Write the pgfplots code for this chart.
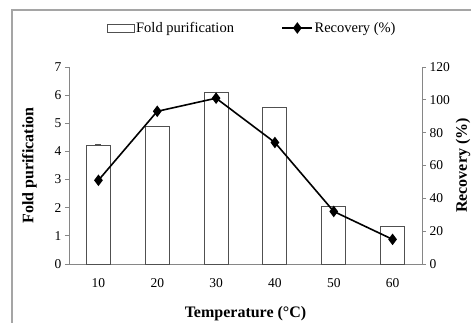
\documentclass[border=0pt]{standalone}
\usepackage{fontspec}
\setmainfont{Liberation Serif}
\usepackage{pgfplots}
\pgfplotsset{compat=1.18}
\definecolor{axgray}{HTML}{868686}
\definecolor{bargray}{HTML}{505050}
\pgfplotsset{
  barleg/.style={legend image code/.code={\draw[fill=white, draw=bargray, line width=1pt] (0pt,-4pt) rectangle (27pt,4pt);}},
  lineleg/.style={legend image code/.code={\draw[##1, mark=none] (0pt,0pt) -- (30pt,0pt); \draw[##1, only marks] plot coordinates {(15pt,0pt)};}},
}
\begin{document}
\begin{tikzpicture}
\useasboundingbox (0pt,0pt) rectangle (471pt,322pt);
\draw[color={rgb,255:red,165;green,165;blue,165}, line width=1.6pt] (12pt,-10pt) -- (12pt,312pt) -- (490pt,312pt);
\begin{axis}[
  at={(69pt,58pt)}, anchor=south west,
  scale only axis, width=353pt, height=197pt,
  xmin=-0.5, xmax=5.5, ymin=0, ymax=7,
  axis x line*=bottom, axis y line*=left,
  axis line style={axgray, line width=0.8pt},
  xtick={0,1,2,3,4,5}, xticklabels={10,20,30,40,50,60},
  extra x ticks={-0.5,0.5,1.5,2.5,3.5,4.5,5.5}, extra x tick labels={},
  extra x tick style={major tick length=4pt, tick style={axgray, line width=0.8pt}},
  x tick style={draw=none},
  ytick={0,1,...,7},
  y tick style={axgray, line width=0.8pt},
  tick align=outside, major tick length=4pt,
  tick label style={font=\fontsize{13.5}{15}\selectfont, black},
  xticklabel style={yshift=-7pt},
  /pgf/number format/assume math mode=true,
  xlabel={\textbf{Temperature (°C)}},
  ylabel={\textbf{Fold purification}},
  label style={font=\fontsize{16}{18}\selectfont},
  xlabel style={yshift=-4pt},
  ylabel style={yshift=11pt},
  legend style={at={(0.518,1.198)}, anchor=center, draw=none, fill=none,
    legend columns=2, font=\fontsize{14.5}{16}\selectfont,
    nodes={inner sep=1.5pt},
    /tikz/every even column/.append style={column sep=46pt}},
]
\addplot[ybar, bar width=24pt, fill=white, draw=bargray, line width=1pt, barleg,
  error bars/.cd, y dir=plus, y explicit, error mark options={rotate=90, mark size=3pt, bargray},
  error bar style={bargray}]
  coordinates {(0,4.22) +- (0,0.02) (1,4.87) +- (0,0.03) (2,6.10) +- (0,0.02) (3,5.56) +- (0,0.02) (4,2.03) +- (0,0.02) (5,1.33) +- (0,0.02)};
\addlegendentry{Fold purification}
\addlegendimage{black, line width=1.6pt, mark=diamond*, mark size=4.5pt, lineleg}
\addlegendentry{Recovery (\%)}
\end{axis}
\begin{axis}[
  at={(69pt,58pt)}, anchor=south west,
  scale only axis, width=353pt, height=197pt,
  xmin=-0.5, xmax=5.5, ymin=0, ymax=120,
  axis x line=none, axis y line*=right,
  axis line style={axgray, line width=0.8pt},
  ytick={0,20,...,120},
  y tick style={axgray, line width=0.8pt},
  tick align=outside, major tick length=4pt,
  tick label style={font=\fontsize{13.5}{15}\selectfont, black},
  /pgf/number format/assume math mode=true,
  ylabel={\textbf{Recovery (\%)}},
  label style={font=\fontsize{16}{18}\selectfont},
  ylabel style={yshift=1pt},
]
\addplot[black, line width=1.6pt, mark=diamond*, mark size=4.5pt]
  coordinates {(0,51) (1,93) (2,101) (3,74) (4,32) (5,15)};
\end{axis}
\end{tikzpicture}
\end{document}
